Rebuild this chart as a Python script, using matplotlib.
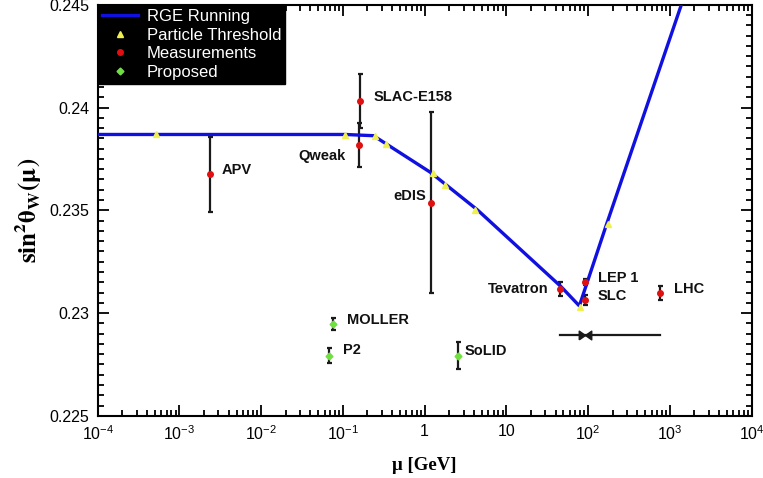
import numpy as np
import matplotlib
matplotlib.use('Agg')
import matplotlib.pyplot as plt
from matplotlib.ticker import FixedLocator, FixedFormatter, MultipleLocator, FormatStrFormatter, LogLocator, NullFormatter
from matplotlib.path import Path

plt.rcParams['font.family'] = ['Liberation Sans', 'DejaVu Sans']
plt.rcParams['mathtext.fontset'] = 'custom'
plt.rcParams['mathtext.rm'] = 'Liberation Sans'
plt.rcParams['mathtext.it'] = 'Liberation Sans:italic'
plt.rcParams['mathtext.bf'] = 'Liberation Sans:bold'

# running of the weak mixing angle (MSbar), GeV
rge_mu = [1e-4, 0.107, 0.237, 1.186, 4.43, 46.6, 78.2, 166.0, 1383.0, 2500.0]
rge_s2w = [0.23869, 0.23869, 0.23863, 0.23684, 0.23502, 0.23129, 0.23035, 0.23425, 0.24500, 0.24812]

# particle thresholds along the curve
thr_mu = [0.000511, 0.1057, 0.25, 0.34, 1.27, 1.777, 4.18, 80.4, 173.0]
thr_s2w = [0.23869, 0.23866, 0.23862, 0.23822, 0.23680, 0.23624, 0.23502, 0.23030, 0.23434]

# measurements
meas_names = ['APV', 'Qweak', 'SLAC-E158', 'eDIS', 'Tevatron', 'LEP 1', 'SLC', 'LHC']
meas_mu = [0.00237, 0.158, 0.16, 1.19, 45.3, 91.19, 91.19, 764.0]
meas_s2w = [0.23675, 0.23819, 0.24033, 0.23538, 0.23117, 0.23151, 0.23064, 0.23097]
meas_err = [0.00183, 0.00107, 0.00131, 0.00438, 0.00036, 0.00016, 0.00025, 0.00035]

# proposed experiments
prop_names = ['MOLLER', 'P2', 'SoLID']
prop_mu = [0.075, 0.067, 2.56]
prop_s2w = [0.22946, 0.22792, 0.22792]
prop_err = [0.00030, 0.00036, 0.00065]

# Z-pole reference with its energy span
zpole_mu = 91.19
zpole_lo, zpole_hi = 45.3, 764.0
zpole_s2w = 0.22894

label_pos = {
    'APV': (3.33e-3, 0.23697, 'left'),
    'SLAC-E158': (0.237, 0.24052, 'left'),
    'Qweak': (0.107, 0.23762, 'right'),
    'eDIS': (1.03, 0.23571, 'right'),
    'Tevatron': (33.2, 0.23117, 'right'),
    'LEP 1': (131.5, 0.23170, 'left'),
    'SLC': (131.5, 0.23081, 'left'),
    'LHC': (1124.0, 0.23117, 'left'),
    'MOLLER': (0.1127, 0.22967, 'left'),
    'P2': (0.0995, 0.22821, 'left'),
    'SoLID': (3.12, 0.22816, 'left'),
}

fig = plt.figure(figsize=(7.63, 4.78), dpi=100)
ax = fig.add_axes([0.128, 0.130, 0.857, 0.860])

ebar_kw = dict(fmt='none', ecolor='#1a1a1a', elinewidth=1.6, capsize=1.8, capthick=1.6, zorder=3)

ax.plot(rge_mu, rge_s2w, color='#1010e0', lw=2.4, zorder=4, label='RGE Running')

ax.errorbar(meas_mu, meas_s2w, yerr=meas_err, **ebar_kw)
ax.errorbar(prop_mu, prop_s2w, yerr=prop_err, **ebar_kw)

ax.plot(thr_mu, thr_s2w, ls='none', marker='^', ms=4, color='#f0f050', mec='#f0f050', zorder=5,
        label='Particle Threshold')
ax.plot(meas_mu, meas_s2w, ls='none', marker='o', ms=4, color='#e01010', mec='#e01010', zorder=6,
        label='Measurements')
ax.plot(prop_mu, prop_s2w, ls='none', marker='D', ms=3.5, color='#70e040', mec='#70e040', zorder=6,
        label='Proposed')

# horizontal bar with bowtie marker at the Z pole
bowtie = Path([(-1, -0.7), (1, 0.7), (1, -0.7), (-1, 0.7), (-1, -0.7)])
ax.plot([zpole_lo, zpole_hi], [zpole_s2w, zpole_s2w], color='#1a1a1a', lw=1.6, zorder=3)
ax.plot([zpole_mu], [zpole_s2w], ls='none', marker=bowtie, ms=9, color='#1a1a1a', zorder=4)

for name, (x, y, ha) in label_pos.items():
    ax.text(x, y, name, ha=ha, va='center', fontsize=10.5, fontweight='bold', color='#111111', zorder=7)

ax.set_xscale('log')
ax.set_xlim(1e-4, 1e4)
ax.set_ylim(0.225, 0.245)

xt = [1e-4, 1e-3, 1e-2, 1e-1, 1, 10, 1e2, 1e3, 1e4]
xl = ['$10^{-4}$', '$10^{-3}$', '$10^{-2}$', '$10^{-1}$', '1', '10', '$10^{2}$', '$10^{3}$', '$10^{4}$']
ax.xaxis.set_major_locator(FixedLocator(xt))
ax.xaxis.set_major_formatter(FixedFormatter(xl))
ax.xaxis.set_minor_locator(LogLocator(base=10, subs=np.arange(2, 10), numticks=20))
ax.xaxis.set_minor_formatter(NullFormatter())
ax.yaxis.set_major_locator(MultipleLocator(0.005))
ax.yaxis.set_minor_locator(MultipleLocator(0.0005))
ax.yaxis.set_major_formatter(FormatStrFormatter('%g'))

ax.tick_params(which='both', direction='in', top=True, right=True, labelsize=11.5, width=1.3)
ax.tick_params(which='major', length=8, pad=6)
ax.tick_params(which='minor', length=4)
for s in ax.spines.values():
    s.set_linewidth(1.5)

ax.set_ylabel(r'$\mathbf{sin^2\theta_W(\mu)}$', fontsize=18, math_fontfamily='stix', labelpad=4)
ax.set_xlabel('μ [GeV]', fontsize=13.5, fontweight='bold', family='Liberation Serif', labelpad=10)

leg = ax.legend(loc='upper left', borderaxespad=0, fontsize=12, frameon=True, fancybox=False,
                labelspacing=0.22, handlelength=2.2, handletextpad=0.5, borderpad=0.25,
                facecolor='black', edgecolor='black', framealpha=1)
for t in leg.get_texts():
    t.set_color('white')
leg.set_zorder(10)

fig.savefig('out.png', dpi=100)
